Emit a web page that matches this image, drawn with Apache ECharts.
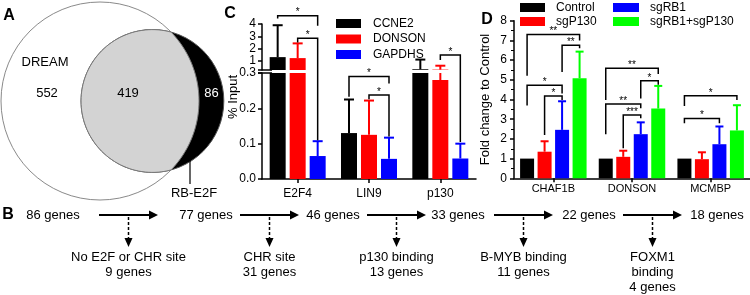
<!DOCTYPE html>
<html>
<head>
<meta charset="utf-8">
<script src="https://cdn.jsdelivr.net/npm/echarts@6/dist/echarts.min.js"></script>
<style>
  html, body { margin: 0; background: #fff; }
  #main { width: 750px; height: 295px; }
</style>
</head>
<body>
<div id="main"></div>
<script>
const FONT = 'Liberation Sans, Arial, sans-serif';

// A - overlap of gene sets
const dreamOnly = 552;
const overlapCount = 419;
const rbOnly = 86;
const vennNames = ['DREAM', 'RB-E2F'];

// B - filtering steps
const flowCounts = [86, 77, 46, 33, 22, 18];
const flowSteps = [['No E2F or CHR site'], ['CHR site'], ['p130 binding'], ['B-MYB binding'], ['FOXM1', 'binding']];
const flowRemoved = [9, 31, 13, 11, 4];

// C - ChIP, % input
const chipTargets = ['E2F4', 'LIN9', 'p130'];
const chipGenes = ['CCNE2', 'DONSON', 'GAPDHS'];
const chipMean = [
  [1.3, 0.13, 0.31],
  [1.22, 0.125, 0.28],
  [0.065, 0.057, 0.058]
];
const chipUpper = [
  [3.9, 0.225, 1.1],
  [2.42, 0.222, 0.6],
  [0.107, 0.117, 0.1]
];
const chipLowTicks = [0, 0.1, 0.2, 0.3];
const chipHighTicks = [1, 2, 3, 4];
const chipBreak = 0.3;
// [target, fromBar, toBar, top, leftEnd, rightEnd]
const chipSig = [
  [0, 0, 2, 4.68, 4.45, 3.85],
  [0, 1, 2, 2.83, 2.5, 0.11],
  [1, 0, 2, 0.29, 0.233, 0.27],
  [1, 1, 2, 0.238, 0.226, 0.12],
  [2, 1, 2, 1.47, 1.06, 0.105]
];
const chipSigLabel = ['*', '*', '*', '*', '*'];

// D - qPCR fold change
const qpcrGenes = ['CHAF1B', 'DONSON', 'MCMBP'];
const qpcrGroups = ['Control', 'sgP130', 'sgRB1', 'sgRB1+sgP130'];
const qpcrMean = [
  [1, 1, 1],
  [1.35, 1.09, 0.97],
  [2.46, 2.24, 1.73],
  [5.08, 3.54, 2.43]
];
const qpcrUpper = [
  [1, 1, 1],
  [1.88, 1.4, 1.32],
  [3.91, 2.84, 2.63],
  [6.43, 4.69, 3.71]
];
const qpcrSig = [
  [0, 0, 3, 7.3, 5.2, 7.0],
  [0, 2, 3, 6.75, 5.4, 6.6],
  [0, 0, 2, 4.72, 3.7, 4.3],
  [0, 1, 2, 4.18, 2.2, 3.97],
  [1, 0, 3, 5.58, 3.98, 5.3],
  [1, 2, 3, 4.95, 4.05, 4.75],
  [1, 0, 2, 3.77, 2.23, 3.55],
  [1, 1, 2, 3.21, 1.52, 3.05],
  [2, 0, 3, 4.19, 3.67, 3.97],
  [2, 0, 2, 3.04, 2.79, 2.79]
];
const qpcrSigLabel = ['**', '**', '*', '*', '**', '*', '**', '***', '*', '*'];

const chipColors = ['#000000', '#ff0000', '#0000ff'];
const qpcrColors = ['#000000', '#ff0000', '#0000ff', '#00ff00'];

const chart = echarts.init(document.getElementById('main'));

const clamp = (v, a, b) => Math.min(Math.max(v, a), b);

function errorSeries(xi, yi, mean, upper, offset, color, capW) {
  return {
    type: 'custom', xAxisIndex: xi, yAxisIndex: yi, z: 3, silent: true,
    data: mean.map((m, k) => [k, m, upper[k]]),
    encode: { x: 0, y: [1, 2] },
    renderItem(params, api) {
      const cs = params.coordSys;
      const x = api.coord([api.value(0), 0])[0] + offset;
      const top = cs.y, bot = cs.y + cs.height;
      const ym = api.coord([api.value(0), api.value(1)])[1];
      const yu = api.coord([api.value(0), api.value(2)])[1];
      const a = clamp(ym, top, bot), b = clamp(yu, top, bot);
      if (a - b < 0.5) return;
      const st = { stroke: color, lineWidth: 2 };
      const ch = [{ type: 'line', shape: { x1: x, y1: a, x2: x, y2: b }, style: st }];
      if (yu >= top - 0.5 && yu <= bot) {
        ch.push({ type: 'line', shape: { x1: x - capW / 2, y1: yu, x2: x + capW / 2, y2: yu }, style: st });
      }
      return { type: 'group', children: ch };
    }
  };
}

function bracketSeries(xi, yi, items, labels, step, nBars, yPix) {
  return {
    type: 'custom', xAxisIndex: xi, yAxisIndex: yi, z: 4, silent: true,
    data: items,
    encode: { x: 0, y: 3 },
    renderItem(params, api) {
      const c = api.coord([api.value(0), 0])[0];
      const off = i => c + (i - (nBars - 1) / 2) * step;
      const x1 = off(api.value(1)), x2 = off(api.value(2));
      const y = v => (yPix ? yPix(v, api) : api.coord([0, v])[1]);
      const yt = y(api.value(3)), yl = y(api.value(4)), yr = y(api.value(5));
      return {
        type: 'group',
        children: [
          { type: 'polyline', shape: { points: [[x1, yl], [x1, yt], [x2, yt], [x2, yr]] },
            style: { stroke: '#000', lineWidth: 1.5, fill: null } },
          { type: 'text', x: (x1 + x2) / 2, y: yt + 2,
            style: { text: labels[params.dataIndex], fontSize: 10, fontFamily: FONT, fill: '#000',
                     align: 'center', verticalAlign: 'bottom' } }
        ]
      };
    }
  };
}

// panel C pixel mapping across the axis break
function chipY(v, api) {
  if (v <= chipBreak) return api.coord([0, v])[1];
  return chart.convertToPixel({ yAxisIndex: 1 }, v);
}

// ---------- series ----------
const series = [];
const chipBarW = 16, chipStep = 20;
chipGenes.forEach((g, i) => {
  [0, 1].forEach(gi => {
    series.push({
      name: g, type: 'bar', xAxisIndex: gi, yAxisIndex: gi,
      data: chipMean[i], barWidth: chipBarW, barGap: '25%',
      itemStyle: { color: chipColors[i] }, clip: true
    });
    series.push(errorSeries(gi, gi, chipMean[i], chipUpper[i], (i - 1) * chipStep, chipColors[i], 10));
  });
});
series.push(bracketSeries(0, 0, chipSig, chipSigLabel, chipStep, 3, chipY));

const qBarW = 14, qStep = 17.5;
qpcrGroups.forEach((g, i) => {
  series.push({
    name: g, type: 'bar', xAxisIndex: 2, yAxisIndex: 2,
    data: qpcrMean[i], barWidth: qBarW, barGap: '25%',
    itemStyle: { color: qpcrColors[i] }
  });
  series.push(errorSeries(2, 2, qpcrMean[i], qpcrUpper[i], (i - 1.5) * qStep, qpcrColors[i], 8));
});
series.push(bracketSeries(2, 2, qpcrSig, qpcrSigLabel, qStep, 4, null));

// ---------- graphics: Venn, flow, labels ----------
function lensArea(R, r, d) {
  if (d >= R + r) return 0;
  if (d <= Math.abs(R - r)) return Math.PI * Math.min(R, r) ** 2;
  const a = r * r * Math.acos((d * d + r * r - R * R) / (2 * d * r));
  const b = R * R * Math.acos((d * d + R * R - r * r) / (2 * d * R));
  const c = 0.5 * Math.sqrt((-d + r + R) * (d + r - R) * (d - r + R) * (d + r + R));
  return a + b - c;
}

const graphic = [];
const vcx = 100, vcy = 101, vR = 99;
const dreamTotal = dreamOnly + overlapCount;
const rbTotal = overlapCount + rbOnly;
const vr = vR * Math.sqrt(rbTotal / dreamTotal);
const target = overlapCount / dreamTotal * Math.PI * vR * vR;
let lo = vR - vr, hi = vR + vr;
for (let k = 0; k < 60; k++) {
  const mid = (lo + hi) / 2;
  if (lensArea(vR, vr, mid) > target) lo = mid; else hi = mid;
}
const vd = (lo + hi) / 2;
const sx = vcx + vd;
const xi = (vd * vd + vR * vR - vr * vr) / (2 * vd);
const hI = Math.sqrt(vR * vR - xi * xi);

// lens outline: small circle arc on the left, big circle arc on the right
const lens = [];
const a1 = Math.atan2(-hI, vcx + xi - sx), a2 = Math.atan2(hI, vcx + xi - sx) - 2 * Math.PI;
for (let k = 0; k <= 80; k++) {
  const t = a1 + (a2 - a1) * k / 80;
  lens.push([sx + vr * Math.cos(t), vcy + vr * Math.sin(t)]);
}
const phi = Math.atan2(hI, xi);
for (let k = 0; k <= 40; k++) {
  const t = phi - 2 * phi * k / 40;
  lens.push([vcx + vR * Math.cos(t), vcy + vR * Math.sin(t)]);
}

graphic.push(
  { type: 'circle', shape: { cx: vcx, cy: vcy, r: vR }, style: { fill: '#fff', stroke: '#8a8a8a', lineWidth: 1 }, z: 1 },
  { type: 'circle', shape: { cx: sx, cy: vcy, r: vr }, style: { fill: '#000', stroke: '#555', lineWidth: 1 }, z: 2 },
  { type: 'polygon', shape: { points: lens }, style: { fill: '#d3d3d3', stroke: '#7a7a7a', lineWidth: 1 }, z: 3 }
);
const tStyle = (text, extra) => Object.assign({ text, fontSize: 13, fontFamily: FONT, fill: '#000', align: 'center', verticalAlign: 'middle' }, extra || {});
graphic.push(
  { type: 'text', x: 45, y: 62, z: 5, style: tStyle(vennNames[0]) },
  { type: 'text', x: 47, y: 93, z: 5, style: tStyle(String(dreamOnly)) },
  { type: 'text', x: 128, y: 93, z: 5, style: tStyle(String(overlapCount)) },
  { type: 'text', x: (vcx + vR + sx + vr) / 2, y: 93, z: 5, style: tStyle(String(rbOnly), { fill: '#fff' }) },
  { type: 'line', shape: { x1: 190, y1: 160, x2: 190, y2: 184 }, style: { stroke: '#000', lineWidth: 1.2 }, z: 5 },
  { type: 'text', x: 194, y: 193, z: 5, style: tStyle(vennNames[1]) }
);

// flow diagram (panel B)
const flowNodeX = [53, 206, 333, 458, 589, 717];
const flowArrowX = [99, 240, 367, 494, 623];
const flowLen = 59, flowY = 215;
flowCounts.forEach((n, i) => {
  graphic.push({ type: 'text', x: flowNodeX[i], y: flowY, style: tStyle(n + ' genes') });
});
flowArrowX.forEach((a, i) => {
  const e = a + flowLen, m = a + flowLen / 2;
  graphic.push(
    { type: 'line', shape: { x1: a, y1: flowY, x2: e - 7, y2: flowY }, style: { stroke: '#000', lineWidth: 2 } },
    { type: 'polygon', shape: { points: [[e - 9, flowY - 4.5], [e, flowY], [e - 9, flowY + 4.5]] }, style: { fill: '#000' } },
    { type: 'line', shape: { x1: m, y1: flowY + 2, x2: m, y2: 239 }, style: { stroke: '#000', lineWidth: 1.5, lineDash: [3, 2] } },
    { type: 'polygon', shape: { points: [[m - 4, 238], [m + 4, 238], [m, 247]] }, style: { fill: '#000' } }
  );
  const lines = flowSteps[i].concat([flowRemoved[i] + ' genes']);
  lines.forEach((t, k) => {
    graphic.push({ type: 'text', x: m, y: 257 + 15 * k, style: tStyle(t) });
  });
});

// axis break marks, titles, panel letters
graphic.push(
  { type: 'line', shape: { x1: 258, y1: 70, x2: 272, y2: 70 }, style: { stroke: '#000', lineWidth: 1.5 } },
  { type: 'line', shape: { x1: 258, y1: 73, x2: 272, y2: 73 }, style: { stroke: '#000', lineWidth: 1.5 } },
  { type: 'text', x: 233, y: 97, rotation: Math.PI / 2, style: tStyle('% Input') }
);
[['A', 9, 16], ['B', 8, 215], ['C', 230, 14], ['D', 487, 20]].forEach(([t, x, y]) => {
  graphic.push({ type: 'text', x, y, style: tStyle(t, { fontSize: 16, fontWeight: 'bold' }) });
});

// ---------- axes ----------
const axLine = { show: true, lineStyle: { color: '#000', width: 1.5 } };
const axTick = { show: true, length: 4, lineStyle: { color: '#000', width: 1.5 } };
const lbl = (size, extra) => Object.assign({ color: '#000', fontSize: size, fontFamily: FONT }, extra || {});
const legendText = { fontSize: 12, fontFamily: FONT, color: '#000', lineHeight: 9, padding: [0, 0, 0, 6] };

const option = {
  animation: false,
  backgroundColor: '#fff',
  grid: [
    { left: 262, top: 73, width: 214, height: 106 },
    { left: 262, top: 24, width: 214, height: 46 },
    { left: 514, top: 20.7, width: 240, height: 157.6 }
  ],
  xAxis: [
    { gridIndex: 0, type: 'category', data: chipTargets, axisLine: axLine,
      axisTick: Object.assign({ alignWithLabel: true }, axTick), axisLabel: lbl(12, { margin: 9 }) },
    { gridIndex: 1, type: 'category', data: chipTargets, show: false },
    { gridIndex: 2, type: 'category', data: qpcrGenes, axisLine: axLine,
      axisTick: Object.assign({ alignWithLabel: true }, axTick), axisLabel: lbl(11, { margin: 5 }) }
  ],
  yAxis: [
    { gridIndex: 0, type: 'value', min: 0, max: 0.3, splitLine: { show: false },
      axisLine: axLine, axisTick: Object.assign({ customValues: chipLowTicks }, axTick),
      axisLabel: lbl(12, { margin: 6, customValues: chipLowTicks, formatter: v => v.toFixed(1) }) },
    { gridIndex: 1, type: 'value', min: 0.25, max: 4, splitLine: { show: false },
      axisLine: axLine, axisTick: Object.assign({ customValues: chipHighTicks }, axTick),
      axisLabel: lbl(12, { margin: 6, customValues: chipHighTicks }) },
    { gridIndex: 2, type: 'value', min: 0, max: 8, interval: 1, splitLine: { show: false },
      axisLine: axLine, axisTick: axTick,
      minorTick: { show: true, splitNumber: 2, length: 3, lineStyle: { color: '#000', width: 1 } },
      axisLabel: lbl(12, { margin: 7 }),
      name: 'Fold change to Control', nameLocation: 'middle', nameGap: 22,
      nameTextStyle: { color: '#000', fontSize: 13, fontFamily: FONT } }
  ],
  legend: [
    { data: chipGenes, orient: 'vertical', left: 336, top: 17.5, itemWidth: 25, itemHeight: 9, itemGap: 3.5,
      padding: 0, selectedMode: false, icon: 'rect',
      textStyle: Object.assign({}, legendText, { padding: [0, 0, 0, 7] }) },
    { data: qpcrGroups.slice(0, 2), orient: 'vertical', left: 520, top: 1.5, itemWidth: 25, itemHeight: 9,
      itemGap: 2, padding: 0, selectedMode: false, icon: 'rect', textStyle: legendText },
    { data: qpcrGroups.slice(2), orient: 'vertical', left: 613, top: 1.5, itemWidth: 26, itemHeight: 9,
      itemGap: 2, padding: 0, selectedMode: false, icon: 'rect', textStyle: legendText }
  ],
  graphic,
  series
};

chart.setOption(option);
</script>
</body>
</html>
